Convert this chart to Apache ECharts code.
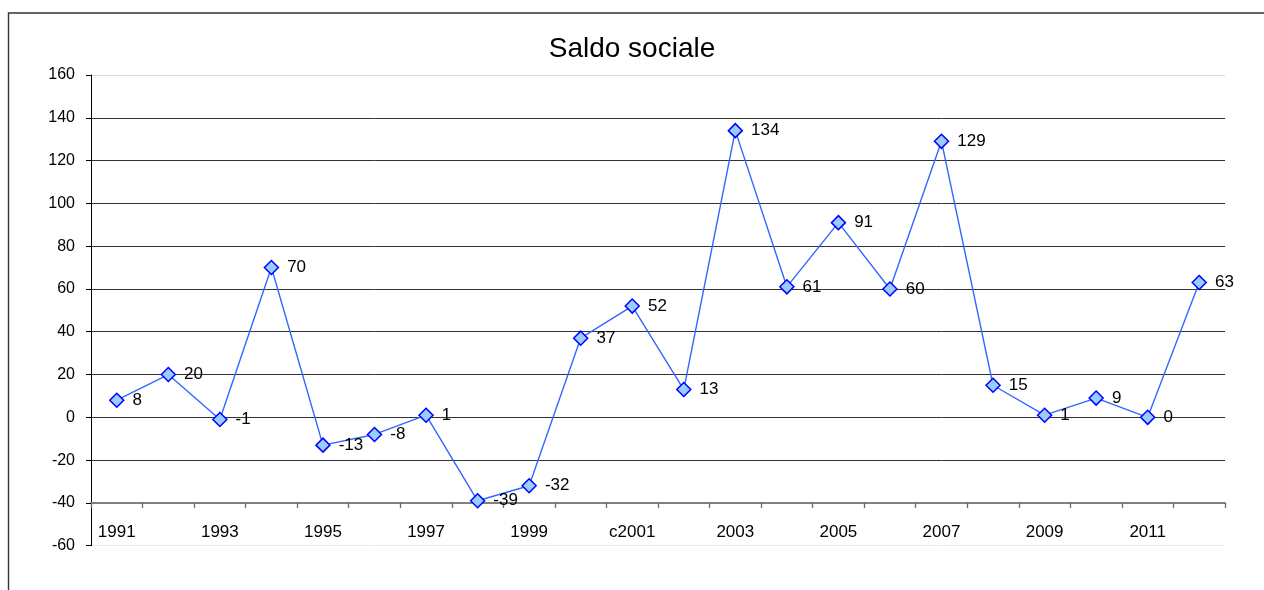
<!DOCTYPE html>
<html>
<head>
<meta charset="utf-8">
<script src="https://cdn.jsdelivr.net/npm/echarts@6/dist/echarts.min.js"></script>
<style>
html,body{margin:0;padding:0;background:#fff;}
#chart{width:1264px;height:590px;}
</style>
</head>
<body>
<div id="chart"></div>
<script>
const titleText = 'Saldo sociale';
const categories = ['1991','1992','1993','1994','1995','1996','1997','1998','1999','2000','c2001','2002','2003','2004','2005','2006','2007','2008','2009','2010','2011','2012'];
const values = [8, 20, -1, 70, -13, -8, 1, -39, -32, 37, 52, 13, 134, 61, 91, 60, 129, 15, 1, 9, 0, 63];
const yTicks = {min: -60, max: 160, interval: 20};

const chart = echarts.init(document.getElementById('chart'), null, {renderer: 'canvas'});
const nTicks = (yTicks.max - yTicks.min) / yTicks.interval + 1;
const gridColors = [];
for (let i = 0; i < nTicks; i++) {
  gridColors.push(i === 0 ? '#ececec' : (i === nTicks - 1 ? '#d9d9d9' : '#333333'));
}
const FONT = 'Liberation Sans, Arial, sans-serif';
chart.setOption({
  animation: false,
  backgroundColor: '#ffffff',
  title: {
    text: titleText,
    left: 'center',
    top: 30,
    textStyle: {fontFamily: FONT, fontSize: 28, fontWeight: 'normal', color: '#000'}
  },
  graphic: [{
    type: 'rect',
    shape: {x: 8.5, y: 13, width: 1300, height: 640},
    style: {fill: 'none', stroke: '#333', lineWidth: 1.4},
    silent: true, z: 100
  }],
  grid: {left: 91, right: 39, top: 75, bottom: 44.3, containLabel: false},
  xAxis: {
    type: 'category',
    data: categories,
    boundaryGap: true,
    position: 'bottom',
    offset: -42.8,
    axisLine: {onZero: false, lineStyle: {color: '#808080', width: 2}},
    axisTick: {show: true, interval: 0, inside: false, length: 5, lineStyle: {color: '#666', width: 1.3}},
    axisLabel: {interval: 1, margin: 21, fontFamily: FONT, fontSize: 17, color: '#000'},
    splitLine: {show: false}
  },
  yAxis: {
    type: 'value',
    min: yTicks.min, max: yTicks.max, interval: yTicks.interval,
    axisLine: {show: true, lineStyle: {color: '#000', width: 1}},
    axisTick: {show: true, length: 5, lineStyle: {color: '#000'}},
    axisLabel: {margin: 16, fontFamily: FONT, fontSize: 16, color: '#000'},
    splitLine: {show: true, lineStyle: {color: gridColors, width: 1}}
  },
  series: [{
    type: 'line',
    data: values,
    symbol: 'diamond',
    symbolSize: 14,
    lineStyle: {color: '#3366FF', width: 1.4},
    itemStyle: {color: '#99CCFF', borderColor: '#0000FF', borderWidth: 1.5},
    label: {show: true, position: 'right', distance: 8, fontFamily: FONT, fontSize: 17, color: '#000'},
    z: 5
  }]
});
</script>
</body>
</html>
